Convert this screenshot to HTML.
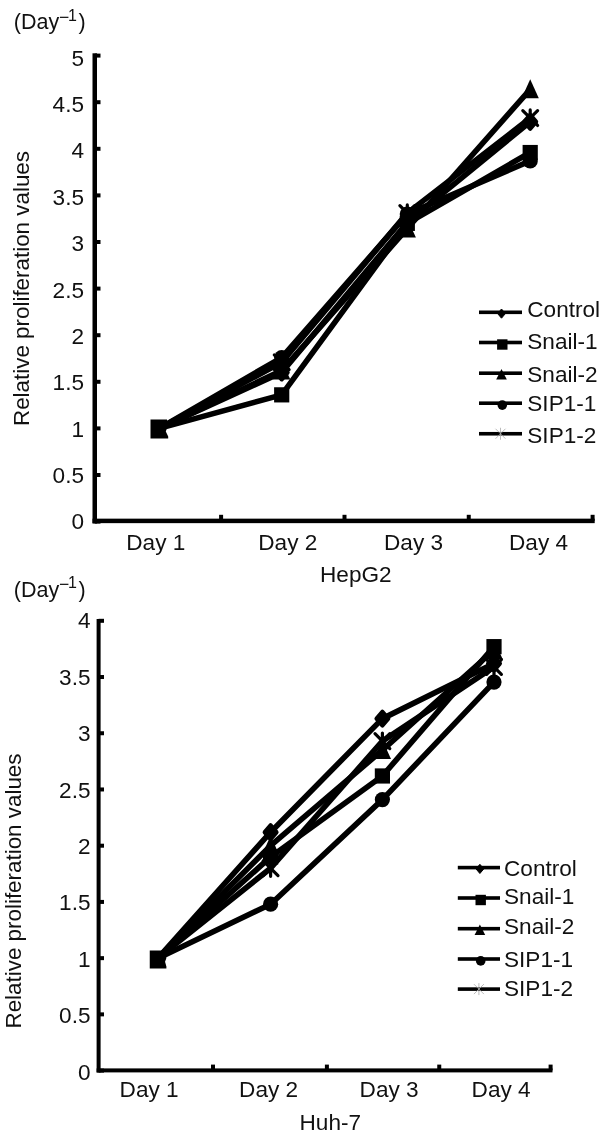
<!DOCTYPE html>
<html><head><meta charset="utf-8"><style>
html,body{margin:0;padding:0;background:#fff;width:600px;height:1135px;overflow:hidden}
svg{display:block;filter:grayscale(1)}
text{font-family:"Liberation Sans",sans-serif;font-size:22.6px;fill:#111}
</style></head><body>
<svg width="600" height="1135" viewBox="0 0 600 1135">
<g fill="#000">
<rect x="92.5" y="53.3" width="4.5" height="470.2"/>
<rect x="92.5" y="518.65" width="502.2" height="4.5"/>
<rect x="94.75" y="519.6" width="5.75" height="4"/>
<text x="84" y="529.4" text-anchor="end">0</text>
<rect x="94.75" y="473" width="5.75" height="4"/>
<text x="84" y="483.02" text-anchor="end">0.5</text>
<rect x="94.75" y="426.4" width="5.75" height="4"/>
<text x="84" y="436.64" text-anchor="end">1</text>
<rect x="94.75" y="379.8" width="5.75" height="4"/>
<text x="84" y="390.26" text-anchor="end">1.5</text>
<rect x="94.75" y="333.2" width="5.75" height="4"/>
<text x="84" y="343.88" text-anchor="end">2</text>
<rect x="94.75" y="286.6" width="5.75" height="4"/>
<text x="84" y="297.5" text-anchor="end">2.5</text>
<rect x="94.75" y="240" width="5.75" height="4"/>
<text x="84" y="251.12" text-anchor="end">3</text>
<rect x="94.75" y="193.4" width="5.75" height="4"/>
<text x="84" y="204.74" text-anchor="end">3.5</text>
<rect x="94.75" y="146.8" width="5.75" height="4"/>
<text x="84" y="158.36" text-anchor="end">4</text>
<rect x="94.75" y="100.2" width="5.75" height="4"/>
<text x="84" y="111.98" text-anchor="end">4.5</text>
<rect x="94.75" y="53.6" width="5.75" height="4"/>
<text x="84" y="65.6" text-anchor="end">5</text>
<rect x="219.1" y="514.8" width="4" height="6.1"/>
<rect x="342.5" y="514.8" width="4" height="6.1"/>
<rect x="466.75" y="514.8" width="4" height="6.1"/>
<rect x="590.6" y="514.8" width="4" height="6.1"/>
<text x="126.3" y="550">Day 1</text>
<text x="258.3" y="550">Day 2</text>
<text x="384" y="550">Day 3</text>
<text x="509" y="550">Day 4</text>
<text x="320" y="581.7">HepG2</text>
<text x="13.8" y="29.2" style="font-size:21.5px">(Day</text>
<text x="59.1" y="22.5" style="font-size:17.5px">−</text>
<text x="67.9" y="20.6" style="font-size:16px">1</text>
<text x="78.5" y="29.2" style="font-size:21.5px">)</text>
<text transform="translate(29,288.5) rotate(-90)" text-anchor="middle" style="font-size:22.4px">Relative proliferation values</text>
<polyline points="159.25,428.4 281.7,372.48 407.3,222.43 530.2,121.77" fill="none" stroke="#000" stroke-width="5.6" stroke-linejoin="round"/>
<polyline points="159.25,428.4 281.7,394.85 407.3,223.36 530.2,152.53" fill="none" stroke="#000" stroke-width="5.6" stroke-linejoin="round"/>
<polyline points="159.25,428.4 281.7,370.62 407.3,228.49 530.2,89.34" fill="none" stroke="#000" stroke-width="5.6" stroke-linejoin="round"/>
<polyline points="159.25,428.4 281.7,357.57 407.3,214.04 530.2,160.92" fill="none" stroke="#000" stroke-width="5.6" stroke-linejoin="round"/>
<polyline points="159.25,428.4 281.7,362.23 407.3,213.11 530.2,118.04" fill="none" stroke="#000" stroke-width="5.6" stroke-linejoin="round"/>
<polygon points="281.7,365.68 287.5,372.48 281.7,379.28 275.9,372.48" stroke="#000" stroke-width="4.4" stroke-linejoin="round"/>
<polygon points="407.3,215.63 413.1,222.43 407.3,229.23 401.5,222.43" stroke="#000" stroke-width="4.4" stroke-linejoin="round"/>
<polygon points="530.2,114.97 536,121.77 530.2,128.57 524.4,121.77" stroke="#000" stroke-width="4.4" stroke-linejoin="round"/>
<rect x="274.1" y="387.25" width="15.2" height="15.2"/>
<rect x="399.7" y="215.76" width="15.2" height="15.2"/>
<rect x="522.6" y="144.93" width="15.2" height="15.2"/>
<polygon points="281.7,360.62 290.3,379.62 273.1,379.62"/>
<polygon points="407.3,218.49 415.9,237.49 398.7,237.49"/>
<polygon points="530.2,79.34 538.8,98.34 521.6,98.34"/>
<circle cx="281.7" cy="357.57" r="7.6"/>
<circle cx="407.3" cy="214.04" r="7.6"/>
<circle cx="530.2" cy="160.92" r="7.6"/>
<path d="M274.3 354.83L289.1 369.63M289.1 354.83L274.3 369.63M281.7 354.09L281.7 370.37" fill="none" stroke="#000" stroke-width="3.2" stroke-linecap="round"/>
<path d="M399.9 205.71L414.7 220.51M414.7 205.71L399.9 220.51M407.3 204.97L407.3 221.25" fill="none" stroke="#000" stroke-width="3.2" stroke-linecap="round"/>
<path d="M522.8 110.64L537.6 125.44M537.6 110.64L522.8 125.44M530.2 109.9L530.2 126.18" fill="none" stroke="#000" stroke-width="3.2" stroke-linecap="round"/>
<polygon points="150.5,419.5 167,419.5 167,428.05 165.8,431.47 168.2,436.5 168.2,438.5 150.5,438.5"/>
<rect x="479" y="310.5" width="43" height="3.6"/>
<polygon points="501.5,309 505.4,313.6 501.5,318.2 497.6,313.6" stroke="#000" stroke-width="1" stroke-linejoin="round"/>
<text x="527.3" y="317">Control</text>
<rect x="479" y="340.7" width="43" height="3.6"/>
<rect x="497.1" y="339.3" width="10.4" height="10.4"/>
<text x="527.3" y="348.8">Snail-1</text>
<rect x="479" y="371.4" width="43" height="3.6"/>
<polygon points="501.5,368.9 506.8,379.5 496.2,379.5"/>
<text x="527.3" y="381.5">Snail-2</text>
<rect x="479" y="401.4" width="43" height="3.6"/>
<circle cx="502.3" cy="405.1" r="4.8"/>
<text x="527.3" y="411">SIP1-1</text>
<rect x="479" y="431.95" width="43" height="3.6"/>
<path d="M495.5 428.75L505.5 438.75M505.5 428.75L495.5 438.75M500.5 427.75L500.5 439.75" stroke="#aaa" stroke-width="0.8" fill="none"/>
<text x="527.3" y="442.5">SIP1-2</text>
<rect x="96.6" y="619" width="4" height="453.5"/>
<rect x="96.6" y="1068.4" width="455.9" height="4"/>
<rect x="98.6" y="1068.6" width="5.4" height="4"/>
<text x="90.5" y="1079.5" text-anchor="end">0</text>
<rect x="98.6" y="1012.37" width="5.4" height="4"/>
<text x="90.5" y="1023.12" text-anchor="end">0.5</text>
<rect x="98.6" y="956.15" width="5.4" height="4"/>
<text x="90.5" y="966.74" text-anchor="end">1</text>
<rect x="98.6" y="899.92" width="5.4" height="4"/>
<text x="90.5" y="910.36" text-anchor="end">1.5</text>
<rect x="98.6" y="843.7" width="5.4" height="4"/>
<text x="90.5" y="853.98" text-anchor="end">2</text>
<rect x="98.6" y="787.47" width="5.4" height="4"/>
<text x="90.5" y="797.6" text-anchor="end">2.5</text>
<rect x="98.6" y="731.25" width="5.4" height="4"/>
<text x="90.5" y="741.22" text-anchor="end">3</text>
<rect x="98.6" y="675.02" width="5.4" height="4"/>
<text x="90.5" y="684.84" text-anchor="end">3.5</text>
<rect x="98.6" y="618.8" width="5.4" height="4"/>
<text x="90.5" y="628.46" text-anchor="end">4</text>
<rect x="211" y="1064.6" width="4" height="5.8"/>
<rect x="324.9" y="1064.6" width="4" height="5.8"/>
<rect x="437.25" y="1064.6" width="4" height="5.8"/>
<rect x="548.6" y="1064.6" width="4" height="5.8"/>
<text x="119.6" y="1097">Day 1</text>
<text x="239.1" y="1097">Day 2</text>
<text x="359.6" y="1097">Day 3</text>
<text x="471.6" y="1097">Day 4</text>
<text x="299.5" y="1129.7">Huh-7</text>
<text x="13.8" y="596.8" style="font-size:21.5px">(Day</text>
<text x="59.1" y="590.1" style="font-size:17.5px">−</text>
<text x="67.9" y="588.2" style="font-size:16px">1</text>
<text x="78.5" y="596.8" style="font-size:21.5px">)</text>
<text transform="translate(21,891) rotate(-90)" text-anchor="middle" style="font-size:22.4px">Relative proliferation values</text>
<polyline points="158,958.15 270.6,832.21 382.4,718.63 494,663.53" fill="none" stroke="#000" stroke-width="5.6" stroke-linejoin="round"/>
<polyline points="158,958.15 270.6,856.94 382.4,775.98 494,646.66" fill="none" stroke="#000" stroke-width="5.6" stroke-linejoin="round"/>
<polyline points="158,958.15 270.6,845.7 382.4,750.12 494,650.04" fill="none" stroke="#000" stroke-width="5.6" stroke-linejoin="round"/>
<polyline points="158,958.15 270.6,904.17 382.4,799.6 494,682.09" fill="none" stroke="#000" stroke-width="5.6" stroke-linejoin="round"/>
<polyline points="158,958.15 270.6,868.19 382.4,741.12 494,666.9" fill="none" stroke="#000" stroke-width="5.6" stroke-linejoin="round"/>
<polygon points="270.6,825.41 276.4,832.21 270.6,839.01 264.8,832.21" stroke="#000" stroke-width="4.4" stroke-linejoin="round"/>
<polygon points="382.4,711.83 388.2,718.63 382.4,725.43 376.6,718.63" stroke="#000" stroke-width="4.4" stroke-linejoin="round"/>
<polygon points="494,656.73 499.8,663.53 494,670.33 488.2,663.53" stroke="#000" stroke-width="4.4" stroke-linejoin="round"/>
<rect x="263" y="849.34" width="15.2" height="15.2"/>
<rect x="374.8" y="768.38" width="15.2" height="15.2"/>
<rect x="486.4" y="639.06" width="15.2" height="15.2"/>
<polygon points="270.6,835.7 279.2,854.7 262,854.7"/>
<polygon points="382.4,740.12 391,759.12 373.8,759.12"/>
<polygon points="494,640.04 502.6,659.04 485.4,659.04"/>
<circle cx="270.6" cy="904.17" r="7.6"/>
<circle cx="382.4" cy="799.6" r="7.6"/>
<circle cx="494" cy="682.09" r="7.6"/>
<path d="M263.2 860.79L278 875.59M278 860.79L263.2 875.59M270.6 860.05L270.6 876.33" fill="none" stroke="#000" stroke-width="3.2" stroke-linecap="round"/>
<path d="M375 733.72L389.8 748.52M389.8 733.72L375 748.52M382.4 732.98L382.4 749.26" fill="none" stroke="#000" stroke-width="3.2" stroke-linecap="round"/>
<path d="M486.6 659.5L501.4 674.3M501.4 659.5L486.6 674.3M494 658.76L494 675.04" fill="none" stroke="#000" stroke-width="3.2" stroke-linecap="round"/>
<polygon points="149.75,950.5 166.25,950.5 166.25,958.6 165.05,961.84 166.4,966.5 166.4,968.5 149.75,968.5"/>
<rect x="457.8" y="865.8" width="42.2" height="3.6"/>
<polygon points="479.9,864.3 483.8,868.9 479.9,873.5 476,868.9" stroke="#000" stroke-width="1" stroke-linejoin="round"/>
<text x="504" y="875.7">Control</text>
<rect x="457.8" y="896.2" width="42.2" height="3.6"/>
<rect x="475.5" y="894.8" width="10.4" height="10.4"/>
<text x="504" y="903.6">Snail-1</text>
<rect x="457.8" y="926.9" width="42.2" height="3.6"/>
<polygon points="479.9,924.4 485.2,935 474.6,935"/>
<text x="504" y="933.9">Snail-2</text>
<rect x="457.8" y="957.2" width="42.2" height="3.6"/>
<circle cx="480.7" cy="960.9" r="4.8"/>
<text x="504" y="967">SIP1-1</text>
<rect x="457.8" y="987.3" width="42.2" height="3.6"/>
<path d="M473.9 984.1L483.9 994.1M483.9 984.1L473.9 994.1M478.9 983.1L478.9 995.1" stroke="#aaa" stroke-width="0.8" fill="none"/>
<text x="504" y="995.9">SIP1-2</text>
</g>
</svg>
</body></html>
